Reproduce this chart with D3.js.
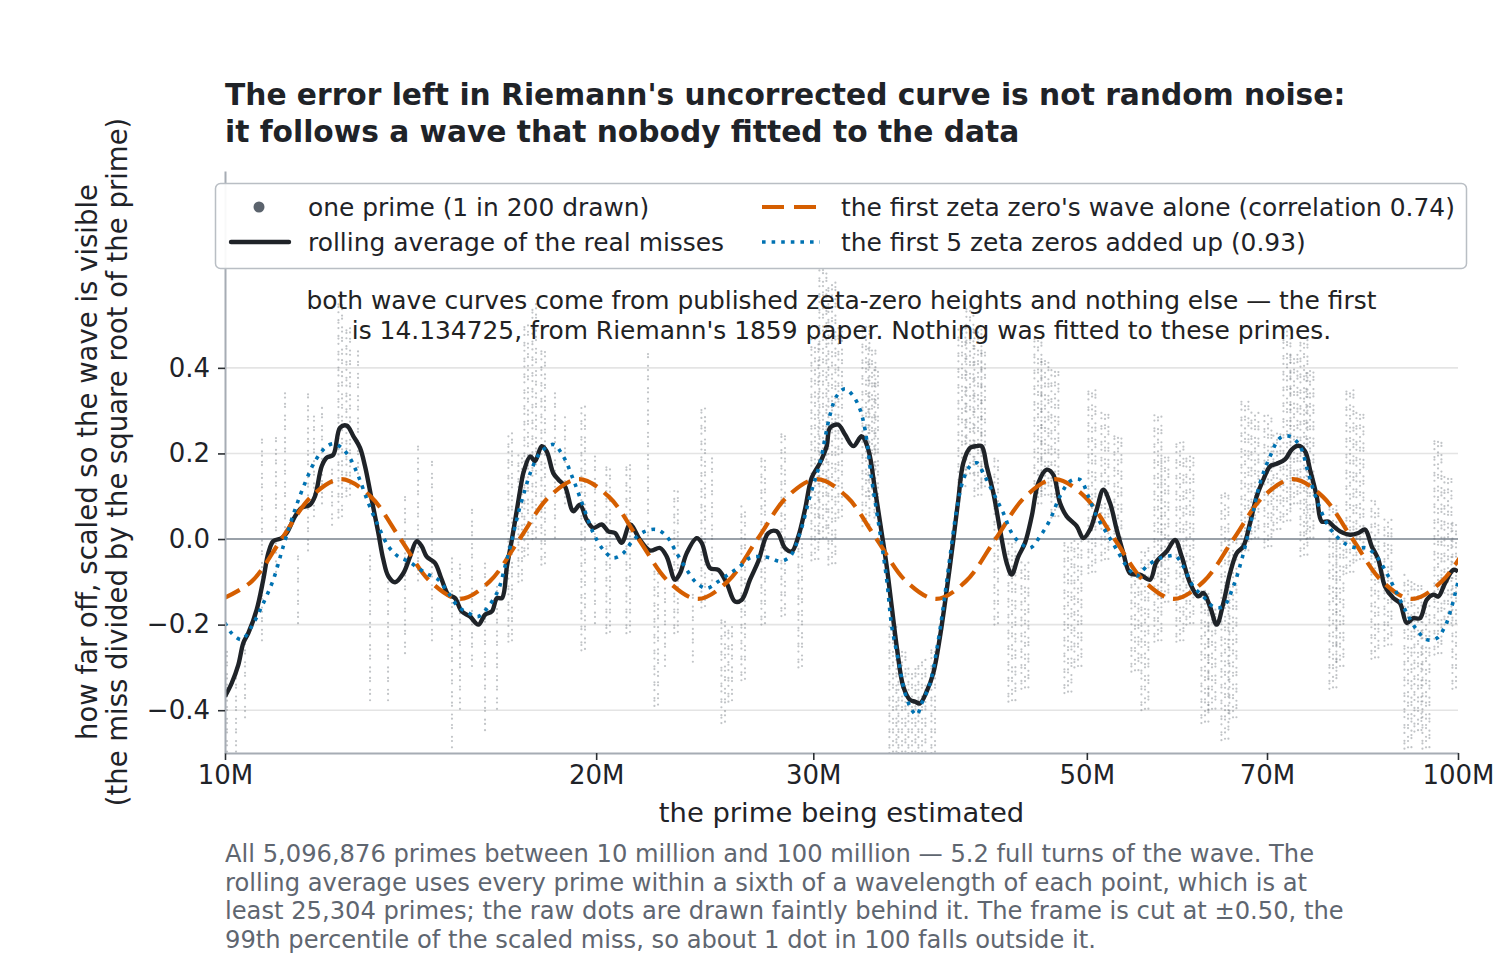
<!DOCTYPE html>
<html>
<head>
<meta charset="utf-8">
<script src="https://cdn.jsdelivr.net/npm/d3@7"></script>
<style>
  body { margin: 0; background: #fff; }
  text { font-family: "DejaVu Sans", sans-serif; }
</style>
</head>
<body>
<div id="chart"></div>
<script>
// x values are the prime in millions, y values are the scaled miss

// rolling average of the real misses (black line)
var rollingAverage = [
  [10.000,-0.368],[10.125,-0.337],[10.252,-0.294],[10.348,-0.243],[10.445,-0.220],[10.610,-0.165],
  [10.741,-0.095],[10.842,-0.033],[10.944,-0.005],[11.117,0.002],[11.221,0.014],[11.397,0.053],
  [11.540,0.073],[11.720,0.080],[11.830,0.100],[11.979,0.170],[12.092,0.190],[12.242,0.197],
  [12.396,0.260],[12.552,0.265],[12.711,0.240],[12.868,0.213],[12.989,0.170],[13.152,0.092],
  [13.316,0.014],[13.440,-0.048],[13.567,-0.087],[13.737,-0.101],[13.952,-0.080],[14.128,-0.041],
  [14.305,-0.005],[14.439,-0.017],[14.574,-0.041],[14.802,-0.056],[14.988,-0.095],[15.174,-0.130],
  [15.365,-0.138],[15.559,-0.169],[15.802,-0.181],[16.049,-0.200],[16.251,-0.177],[16.462,-0.169],
  [16.617,-0.138],[16.773,-0.138],[16.930,-0.064],[17.089,0.000],[17.249,0.069],[17.411,0.139],
  [17.456,0.154],[17.683,0.193],[17.841,0.182],[18.066,0.217],[18.235,0.205],[18.461,0.154],
  [18.635,0.139],[18.869,0.123],[19.164,0.065],[19.405,0.080],[19.649,0.045],[19.893,0.026],
  [20.208,0.034],[20.459,0.018],[20.716,0.014],[20.977,-0.009],[21.305,0.034],[21.707,-0.002],
  [22.116,-0.027],[22.533,-0.021],[22.816,-0.041],[23.173,-0.095],[23.390,-0.080],[23.685,-0.033],
  [24.131,0.002],[24.357,-0.009],[24.738,-0.068],[25.125,-0.072],[25.521,-0.103],[25.920,-0.146],
  [26.246,-0.142],[26.656,-0.095],[27.072,-0.052],[27.583,0.014],[28.019,0.018],[28.456,-0.021],
  [28.815,-0.029],[29.172,0.006],[29.539,0.069],[29.911,0.143],[30.378,0.178],[30.761,0.217],
  [30.952,0.260],[31.435,0.267],[31.831,0.244],[32.328,0.217],[32.839,0.240],[33.247,0.209],
  [33.665,0.115],[34.089,0.014],[34.409,-0.064],[34.732,-0.158],[35.057,-0.251],[35.492,-0.345],
  [35.939,-0.376],[36.276,-0.380],[36.616,-0.384],[37.078,-0.356],[37.537,-0.313],[38.010,-0.228],
  [38.489,-0.119],[38.966,-0.002],[39.331,0.092],[39.701,0.178],[40.200,0.213],[40.706,0.217],
  [41.088,0.217],[41.474,0.170],[41.988,0.108],[42.517,0.022],[43.052,-0.056],[43.456,-0.083],
  [43.995,-0.041],[44.549,-0.009],[45.110,0.053],[45.669,0.131],[46.392,0.162],[46.967,0.150],
  [47.558,0.084],[48.157,0.053],[49.065,0.030],[49.673,0.002],[50.298,0.022],[50.932,0.069],
  [51.564,0.115],[52.213,0.084],[52.871,0.022],[53.528,-0.033],[54.199,-0.080],[54.881,-0.083],
  [55.220,-0.083],[56.261,-0.095],[56.970,-0.052],[58.043,-0.029],[58.950,-0.002],[59.693,-0.041],
  [60.625,-0.103],[61.572,-0.134],[62.150,-0.126],[62.932,-0.158],[63.725,-0.200],[64.515,-0.150],
  [65.329,-0.080],[66.152,-0.033],[66.972,-0.017],[67.815,0.037],[68.669,0.100],[69.521,0.139],
  [70.396,0.170],[71.282,0.176],[72.396,0.186],[73.307,0.209],[74.217,0.218],[75.151,0.205],
  [75.856,0.162],[76.811,0.100],[77.532,0.041],[78.493,0.041],[79.230,0.030],[80.227,0.018],
  [81.739,0.010],[83.016,0.014],[84.061,0.022],[85.120,-0.017],[86.176,-0.048],[87.260,-0.111],
  [88.624,-0.138],[89.739,-0.150],[90.869,-0.196],[91.997,-0.185],[93.154,-0.185],[94.328,-0.142],
  [95.498,-0.130],[96.394,-0.134],[97.607,-0.103],[99.132,-0.072],[100.000,-0.076]
];

// the first zeta zero's wave alone (orange dashed)
var firstZeroX = [9.944,10.512,11.113,11.748,12.419,13.128,13.878,14.671,15.509,16.395,17.332,
  18.322,19.369,20.475,21.645,22.882,24.189,25.571,27.032,28.576,30.209,31.935,33.759,35.688,
  37.727,39.882,42.160,44.569,47.115,49.807,52.652,55.660,58.840,62.201,65.755,69.511,73.482,
  77.680,82.118,86.809,91.768,97.011,102.553];
var firstZeroY = [-0.14,-0.099,0,0.099,0.14,0.099,0,-0.099,-0.14,-0.099,0,0.099,0.14,0.099,0,
  -0.099,-0.14,-0.099,0,0.099,0.14,0.099,0,-0.099,-0.14,-0.099,0,0.099,0.14,0.099,0,-0.099,
  -0.14,-0.099,0,0.099,0.14,0.099,0,-0.099,-0.14,-0.099,0];

// the first 5 zeta zeros added up (blue dotted)
var fiveZeros = [
  [10.000,-0.196],[10.125,-0.220],[10.317,-0.235],[10.511,-0.204],[10.709,-0.158],[10.944,-0.095],
  [11.150,-0.017],[11.397,0.069],[11.612,0.131],[11.831,0.182],[12.054,0.213],[12.243,0.223],
  [12.436,0.213],[12.630,0.189],[12.827,0.147],[13.070,0.084],[13.317,0.030],[13.567,-0.017],
  [13.822,-0.041],[14.083,-0.052],[14.348,-0.068],[14.618,-0.083],[14.893,-0.095],[15.174,-0.126],
  [15.460,-0.158],[15.752,-0.173],[16.049,-0.181],[16.351,-0.158],[16.659,-0.119],[16.869,-0.064],
  [17.089,-0.002],[17.294,0.061],[17.511,0.115],[17.683,0.154],[18.008,0.201],[18.461,0.221],
  [18.809,0.193],[19.164,0.139],[19.525,0.076],[19.893,0.014],[20.268,-0.025],[20.650,-0.044],
  [21.040,-0.033],[21.437,-0.002],[21.910,0.018],[22.394,0.022],[22.816,0.006],[23.246,-0.033],
  [23.685,-0.072],[24.131,-0.103],[24.586,-0.115],[25.125,-0.099],[25.679,-0.080],[26.163,-0.064],
  [26.656,-0.044],[27.158,-0.041],[27.670,-0.044],[28.192,-0.052],[28.723,-0.041],[29.265,0.014],
  [29.816,0.100],[30.378,0.178],[30.952,0.290],[31.341,0.334],[31.831,0.351],[32.328,0.334],
  [32.735,0.303],[33.042,0.256],[33.458,0.139],[33.981,0.014],[34.409,-0.095],[34.732,-0.204],
  [35.162,-0.282],[35.605,-0.360],[36.053,-0.399],[36.392,-0.411],[36.733,-0.384],[37.307,-0.337],
  [37.776,-0.259],[38.245,-0.158],[38.726,-0.041],[39.214,0.069],[39.701,0.139],[40.200,0.170],
  [40.706,0.178],[41.211,0.154],[41.730,0.123],[42.255,0.092],[42.780,0.061],[43.456,0.014],
  [44.135,-0.009],[44.967,-0.021],[45.815,0.006],[46.678,0.045],[47.558,0.100],[48.455,0.135],
  [49.368,0.139],[50.139,0.100],[50.932,0.053],[51.892,0.014],[52.871,-0.025],[53.866,-0.064],
  [54.881,-0.087],[55.220,-0.080],[55.916,-0.064],[56.970,-0.048],[58.043,-0.041],[58.950,-0.039],
  [59.871,-0.064],[60.999,-0.111],[62.150,-0.134],[63.321,-0.158],[64.515,-0.158],[65.733,-0.111],
  [66.772,-0.048],[67.815,0.030],[69.094,0.131],[70.396,0.193],[71.723,0.236],[73.075,0.240],
  [74.452,0.217],[75.617,0.154],[76.811,0.092],[78.259,0.037],[79.734,0.006],[81.238,-0.013],
  [82.769,-0.021],[84.328,-0.021],[85.918,-0.041],[87.538,-0.080],[89.188,-0.126],[90.869,-0.173],
  [92.583,-0.212],[94.328,-0.235],[96.106,-0.232],[97.607,-0.204],[98.837,-0.158],[100.000,-0.100]
];

// columns of raw dots (1 prime in 200): [x, lowest miss, highest miss, how crowded 1-3]
var dotColumns = [
  [10.037,-0.50,-0.25,1],[10.208,-0.50,-0.30,1],[10.381,-0.42,-0.22,1],[10.715,-0.24,0.24,1],[10.999,-0.08,0.25,1],
  [11.186,0.00,0.35,1],[11.461,-0.20,-0.03,1],[11.677,-0.03,0.35,1],[11.808,0.05,0.30,1],[11.986,0.08,0.31,1],
  [12.213,0.03,0.17,1],[12.443,0.05,0.56,2],[12.630,0.10,0.50,2],[12.820,0.15,0.45,1],[13.111,-0.38,-0.02,1],
  [13.559,-0.38,-0.08,1],[13.996,-0.27,0.10,1],[14.340,-0.10,0.23,1],[14.719,-0.24,0.19,1],[15.279,-0.49,-0.03,1],
  [15.509,-0.40,-0.05,1],[15.861,-0.30,0.08,1],[16.251,-0.45,-0.05,1],[16.619,-0.40,-0.10,1],[17.091,-0.24,0.25,2],
  [17.413,-0.10,0.20,2],[17.609,-0.04,0.50,2],[17.875,0.00,0.55,2],[18.177,-0.06,0.44,2],[18.520,0.00,0.35,1],
  [18.869,0.08,0.29,1],[19.587,-0.26,0.31,2],[19.956,-0.20,0.20,1],[20.523,-0.22,0.17,2],[21.305,-0.22,0.18,2],
  [22.033,-0.04,0.44,1],[22.449,-0.39,-0.06,2],[22.744,-0.30,-0.10,1],[23.296,-0.22,0.12,2],[23.958,-0.29,-0.12,1],
  [24.508,-0.16,0.31,2],[24.831,-0.10,0.20,1],[25.440,-0.43,-0.18,2],[25.775,-0.38,-0.20,2],[26.408,-0.33,0.08,2],
  [27.413,-0.20,0.19,2],[28.456,-0.18,0.25,2],[29.375,-0.30,0.00,2],[30.096,-0.05,0.47,3],[30.549,0.00,0.63,3],
  [31.067,-0.06,0.60,3],[31.653,0.05,0.50,2],[33.104,0.03,0.50,3],[33.477,0.10,0.45,3],[33.854,0.05,0.40,2],
  [34.816,-0.50,-0.20,3],[35.407,-0.50,-0.25,3],[36.074,-0.50,-0.30,3],[36.754,-0.50,-0.28,3],[37.657,-0.50,-0.25,2],
  [39.604,0.12,0.50,3],[40.200,0.15,0.55,3],[40.806,0.10,0.50,3],[41.342,0.12,0.45,2],[42.358,-0.20,0.19,2],
  [43.481,-0.38,0.00,3],[44.549,-0.35,-0.05,3],[45.644,0.08,0.47,3],[46.244,0.10,0.43,3],[47.116,0.05,0.40,3],
  [48.274,-0.36,0.00,3],[49.184,-0.30,0.00,3],[50.487,-0.08,0.35,3],[51.727,-0.05,0.30,3],[52.998,0.00,0.25,3],
  [54.707,-0.31,-0.08,3],[55.738,-0.40,-0.02,3],[57.108,-0.24,0.29,3],[57.859,-0.15,0.20,3],[59.503,-0.24,0.23,3],
  [60.625,-0.20,0.20,3],[62.347,-0.43,-0.12,3],[63.168,-0.40,-0.15,3],[64.722,-0.47,0.11,3],[65.696,-0.42,0.00,3],
  [67.185,-0.03,0.33,3],[68.451,0.00,0.30,3],[70.133,-0.02,0.29,3],[71.322,0.02,0.25,3],[72.667,0.04,0.50,3],
  [73.623,0.08,0.44,3],[75.012,-0.04,0.47,3],[75.856,0.00,0.40,3],[79.185,-0.35,0.08,3],[80.227,-0.30,0.00,3],
  [81.739,-0.08,0.35,3],[83.280,-0.05,0.30,3],[85.646,-0.28,0.09,3],[87.751,-0.25,0.05,3],[91.091,-0.49,-0.08,3],
  [92.807,-0.45,-0.10,3],[94.205,-0.49,-0.15,3],[96.339,-0.27,0.23,3],[98.156,-0.20,0.15,3],[99.633,-0.35,0.04,3]
];

// axis ticks
var xTicks = [10, 20, 30, 50, 70, 100];
var yTicks = [-0.4, -0.2, 0.0, 0.2, 0.4];
var gridValues = [-0.4, -0.2, 0.2, 0.4];

var titleLines = [
  "The error left in Riemann's uncorrected curve is not random noise:",
  "it follows a wave that nobody fitted to the data"
];
var noteLines = [
  "both wave curves come from published zeta-zero heights and nothing else \u2014 the first",
  "is 14.134725, from Riemann's 1859 paper. Nothing was fitted to these primes."
];
var footLines = [
  "All 5,096,876 primes between 10 million and 100 million \u2014 5.2 full turns of the wave. The",
  "rolling average uses every prime within a sixth of a wavelength of each point, which is at",
  "least 25,304 primes; the raw dots are drawn faintly behind it. The frame is cut at \u00b10.50, the",
  "99th percentile of the scaled miss, so about 1 dot in 100 falls outside it."
];
var yLabelLines = [
  "how far off, scaled so the wave is visible",
  "(the miss divided by the square root of the prime)"
];

// chart geometry
var width = 1500, height = 960;
var plot = { left: 225, right: 1458, top: 171, bottom: 753 };

var colors = {
  ink: "#1f2328",
  dots: "#5b636d",
  orange: "#d55e00",
  blue: "#0072b2",
  spine: "#a6acb4",
  grid: "#e4e4e4",
  zero: "#9aa1a9",
  muted: "#5f6670"
};

var svg = d3.select("#chart")
  .append("svg")
  .attr("width", width)
  .attr("height", height);

svg.append("defs").append("clipPath")
  .attr("id", "plot-clip")
  .append("rect")
  .attr("x", plot.left)
  .attr("y", plot.top)
  .attr("width", plot.right - plot.left)
  .attr("height", plot.bottom - plot.top);

var xScale = d3.scaleLog()
  .domain([10, 100])
  .range([plot.left, plot.right]);

var yScale = d3.scaleLinear()
  .domain([-0.5, 0.86])
  .range([plot.bottom, plot.top]);

// gridlines
svg.append("g")
  .selectAll("line")
  .data(gridValues)
  .enter()
  .append("line")
  .attr("x1", plot.left)
  .attr("x2", plot.right)
  .attr("y1", function(d) { return yScale(d); })
  .attr("y2", function(d) { return yScale(d); })
  .attr("stroke", colors.grid)
  .attr("stroke-width", 1.6);

svg.append("line")
  .attr("x1", plot.left)
  .attr("x2", plot.right)
  .attr("y1", yScale(0))
  .attr("y2", yScale(0))
  .attr("stroke", colors.zero)
  .attr("stroke-width", 2);

var plotArea = svg.append("g").attr("clip-path", "url(#plot-clip)");

// faint raw dots: each column is drawn as one to three dotted strands, by how crowded it is
var strands = [
  { dx: 0.0, dash: "0 3.1 0 6.3 0 4.2 0 8.7", offset: 1.7 },
  { dx: -3.6, dash: "0 5.3 0 2.6 0 7.9", offset: 0.0 },
  { dx: 3.4, dash: "0 4.4 0 9.1 0 3.0", offset: 2.9 }
];
strands.forEach(function(s, i) {
  plotArea.append("g")
    .selectAll("line")
    .data(dotColumns.filter(function(d) { return d[3] > i; }))
    .enter()
    .append("line")
    .attr("x1", function(d) { return xScale(d[0]) + s.dx; })
    .attr("x2", function(d) { return xScale(d[0]) + s.dx; })
    .attr("y1", function(d) { return yScale(d[1]); })
    .attr("y2", function(d) { return yScale(d[2]); })
    .attr("stroke", colors.dots)
    .attr("stroke-opacity", 0.38)
    .attr("stroke-width", 2.2)
    .attr("stroke-linecap", "round")
    .attr("stroke-dasharray", s.dash)
    .attr("stroke-dashoffset", s.offset);
});

var line = d3.line()
  .x(function(d) { return xScale(d[0]); })
  .y(function(d) { return yScale(d[1]); })
  .curve(d3.curveCatmullRom.alpha(0.5));

// rolling average
plotArea.append("path")
  .datum(rollingAverage)
  .attr("d", line)
  .attr("fill", "none")
  .attr("stroke", colors.ink)
  .attr("stroke-width", 4.4)
  .attr("stroke-linejoin", "round");

// first zero wave
var firstZero = firstZeroX.map(function(x, i) { return [x, firstZeroY[i]]; });
plotArea.append("path")
  .datum(firstZero)
  .attr("d", line)
  .attr("fill", "none")
  .attr("stroke", colors.orange)
  .attr("stroke-width", 4.2)
  .attr("stroke-dasharray", "20 9");

// five zeros
plotArea.append("path")
  .datum(fiveZeros)
  .attr("d", line)
  .attr("fill", "none")
  .attr("stroke", colors.blue)
  .attr("stroke-width", 3.6)
  .attr("stroke-dasharray", "3.6 6");

// axes
var xAxis = svg.append("g")
  .attr("transform", "translate(0," + plot.bottom + ")")
  .call(d3.axisBottom(xScale)
    .tickValues(xTicks)
    .tickFormat(function(d) { return d + "M"; })
    .tickSize(7)
    .tickSizeOuter(0)
    .tickPadding(6));

var yAxis = svg.append("g")
  .attr("transform", "translate(" + plot.left + ",0)")
  .call(d3.axisLeft(yScale)
    .tickValues(yTicks)
    .tickFormat(d3.format(".1f"))
    .tickSize(7)
    .tickSizeOuter(0)
    .tickPadding(8));

[xAxis, yAxis].forEach(function(axis) {
  axis.select(".domain").attr("stroke", colors.spine).attr("stroke-width", 2);
  axis.selectAll(".tick line").attr("stroke", "#2b2f33").attr("stroke-width", 1.6);
  axis.selectAll(".tick text")
    .attr("fill", colors.ink)
    .style("font-family", "'DejaVu Sans', sans-serif")
    .style("font-size", "26px");
});

// title
svg.append("g")
  .selectAll("text")
  .data(titleLines)
  .enter()
  .append("text")
  .attr("x", plot.left)
  .attr("y", function(d, i) { return 105 + i * 36.5; })
  .attr("fill", colors.ink)
  .style("font-size", "29.7px")
  .style("font-weight", "bold")
  .text(function(d) { return d; });

// y axis label
svg.append("g")
  .selectAll("text")
  .data(yLabelLines)
  .enter()
  .append("text")
  .attr("transform", function(d, i) {
    return "translate(" + (97 + i * 30) + "," + ((plot.top + plot.bottom) / 2) + ") rotate(-90)";
  })
  .attr("text-anchor", "middle")
  .attr("fill", colors.ink)
  .style("font-size", "27.5px")
  .text(function(d) { return d; });

// x axis label
svg.append("text")
  .attr("x", (plot.left + plot.right) / 2)
  .attr("y", 822)
  .attr("text-anchor", "middle")
  .attr("fill", colors.ink)
  .style("font-size", "27.4px")
  .text("the prime being estimated");

// note inside the plot
svg.append("g")
  .selectAll("text")
  .data(noteLines)
  .enter()
  .append("text")
  .attr("x", (plot.left + plot.right) / 2)
  .attr("y", function(d, i) { return 309 + i * 29.5; })
  .attr("text-anchor", "middle")
  .attr("fill", "#222")
  .style("font-size", "24.9px")
  .text(function(d) { return d; });

// footnote
svg.append("g")
  .selectAll("text")
  .data(footLines)
  .enter()
  .append("text")
  .attr("x", plot.left)
  .attr("y", function(d, i) { return 862 + i * 28.7; })
  .attr("fill", colors.muted)
  .style("font-size", "24.2px")
  .text(function(d) { return d; });

// legend
var legend = svg.append("g");
legend.append("rect")
  .attr("x", 215.5)
  .attr("y", 183.5)
  .attr("width", 1251)
  .attr("height", 85)
  .attr("rx", 5)
  .attr("fill", "#fff")
  .attr("fill-opacity", 0.92)
  .attr("stroke", "#b9bec4")
  .attr("stroke-width", 1.5);

legend.append("circle")
  .attr("cx", 259).attr("cy", 207).attr("r", 5.5)
  .attr("fill", colors.dots);

legend.append("line")
  .attr("x1", 231).attr("x2", 289).attr("y1", 242).attr("y2", 242)
  .attr("stroke", colors.ink).attr("stroke-width", 4.4).attr("stroke-linecap", "round");

legend.append("line")
  .attr("x1", 762).attr("x2", 816).attr("y1", 207).attr("y2", 207)
  .attr("stroke", colors.orange).attr("stroke-width", 4.2).attr("stroke-dasharray", "22 10");

legend.append("line")
  .attr("x1", 762).attr("x2", 820).attr("y1", 242).attr("y2", 242)
  .attr("stroke", colors.blue).attr("stroke-width", 3.6).attr("stroke-dasharray", "3.6 6");

var legendItems = [
  { x: 308, y: 207, label: "one prime (1 in 200 drawn)" },
  { x: 308, y: 242, label: "rolling average of the real misses" },
  { x: 841, y: 207, label: "the first zeta zero's wave alone (correlation 0.74)" },
  { x: 841, y: 242, label: "the first 5 zeta zeros added up (0.93)" }
];

legend.selectAll(".legend-label")
  .data(legendItems)
  .enter()
  .append("text")
  .attr("class", "legend-label")
  .attr("x", function(d) { return d.x; })
  .attr("y", function(d) { return d.y; })
  .attr("dy", "0.35em")
  .attr("fill", colors.ink)
  .style("font-size", "24.9px")
  .text(function(d) { return d.label; });
</script>
</body>
</html>
